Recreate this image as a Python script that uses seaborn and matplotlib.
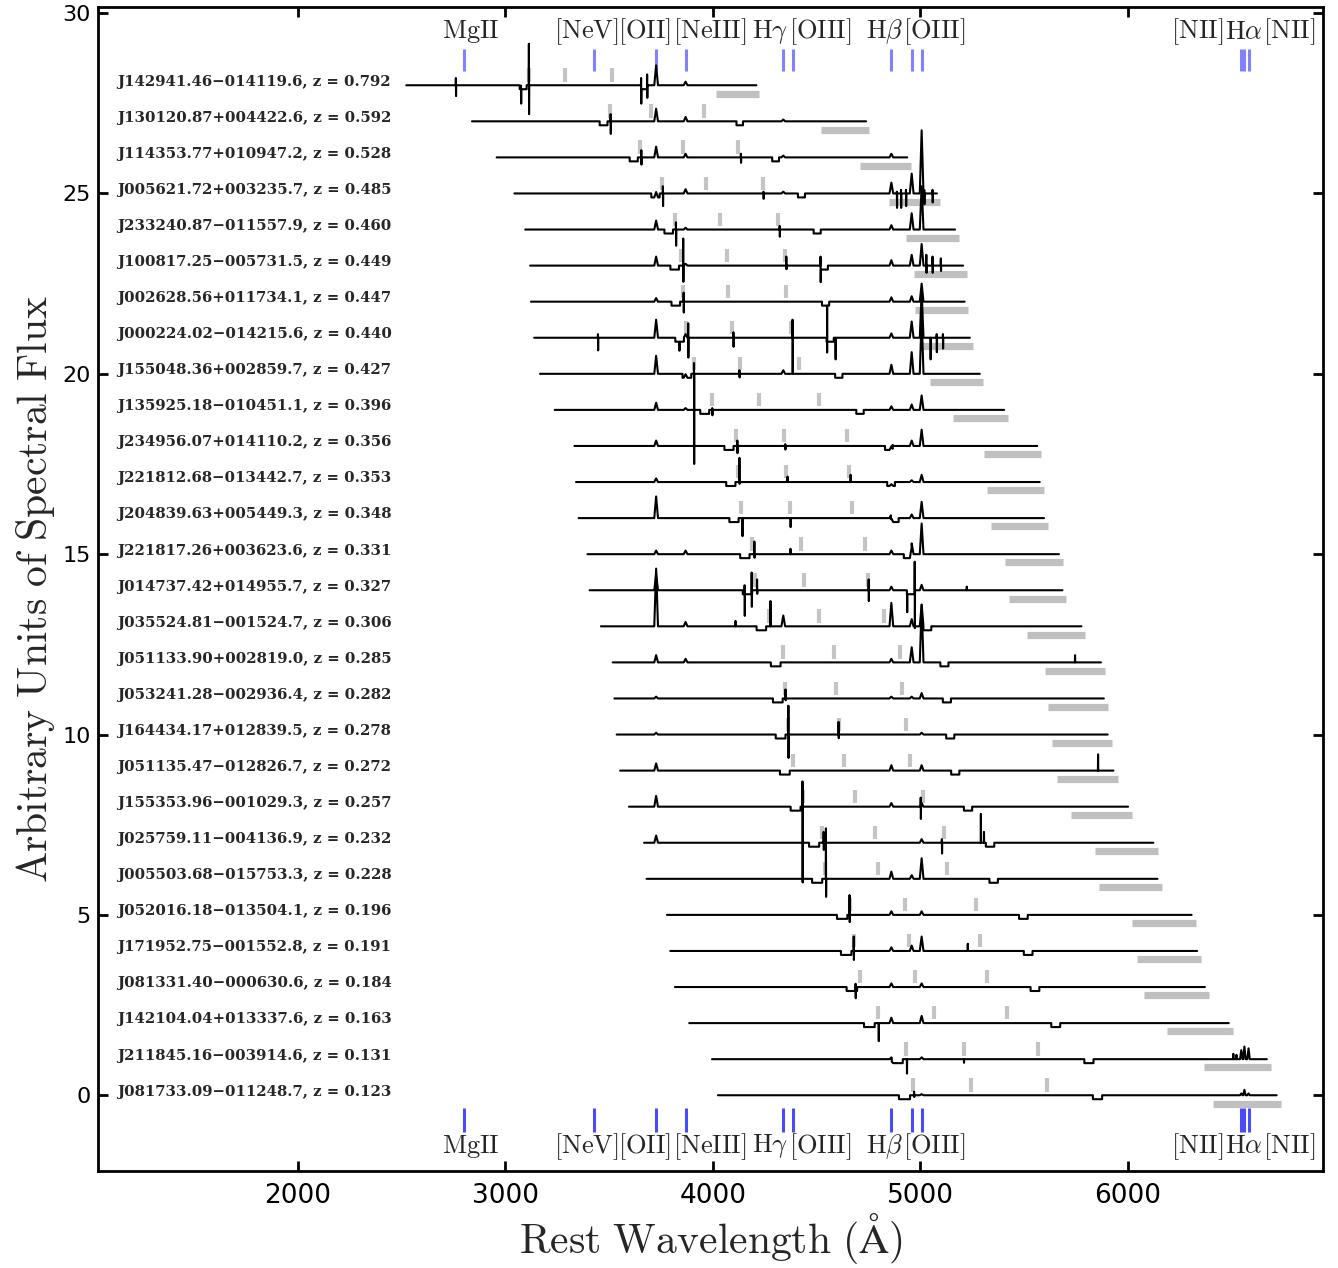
import numpy as np
import pandas as pd
import matplotlib
matplotlib.use("Agg")
import matplotlib.pyplot as plt
import seaborn as sns

# ---------------- data ----------------
NAMES = ["J142941.46\u2212014119.6", "J130120.87+004422.6", "J114353.77+010947.2",
         "J005621.72+003235.7", "J233240.87\u2212011557.9", "J100817.25\u2212005731.5",
         "J002628.56+011734.1", "J000224.02\u2212014215.6", "J155048.36+002859.7",
         "J135925.18\u2212010451.1", "J234956.07+014110.2", "J221812.68\u2212013442.7",
         "J204839.63+005449.3", "J221817.26+003623.6", "J014737.42+014955.7",
         "J035524.81\u2212001524.7", "J051133.90+002819.0", "J053241.28\u2212002936.4",
         "J164434.17+012839.5", "J051135.47\u2212012826.7", "J155353.96\u2212001029.3",
         "J025759.11\u2212004136.9", "J005503.68\u2212015753.3", "J052016.18\u2212013504.1",
         "J171952.75\u2212001552.8", "J081331.40\u2212000630.6", "J142104.04+013337.6",
         "J211845.16\u2212003914.6", "J081733.09\u2212011248.7"]
REDSHIFTS = [0.792, 0.592, 0.528, 0.485, 0.460, 0.449, 0.447, 0.440, 0.427, 0.396,
             0.356, 0.353, 0.348, 0.331, 0.327, 0.306, 0.285, 0.282, 0.278, 0.272,
             0.257, 0.232, 0.228, 0.196, 0.191, 0.184, 0.163, 0.131, 0.123]
OFFSETS = list(range(28, -1, -1))

# observed-frame quantities (Angstrom)
COVERAGE_OBS = (4520, 7545)
SKY_LINES_OBS = [5577, 5892, 6300]
MASK_BAR_OBS = (7200, 7570)
DIPS_OBS = [(5500, 5560), (6550, 6600)]
DIP_DEPTH = 0.11

# emission line peak heights (rest frame)
EMISSION_WAVES = [3727, 3869, 4340, 4861, 4959, 5007, 6548, 6563, 6583]
EMISSION_HEIGHTS = [
    [0.55, 0.10, 0.00, 0.00, 0.00, 0.00, 0, 0, 0],
    [0.35, 0.12, 0.05, 0.00, 0.00, 0.00, 0, 0, 0],
    [0.30, 0.10, 0.05, 0.10, 0.00, 0.00, 0, 0, 0],
    [0.15, 0.12, 0.05, 0.30, 0.55, 1.75, 0, 0, 0],
    [0.25, 0.05, 0.00, 0.12, 0.45, 1.20, 0, 0, 0],
    [0.25, 0.05, 0.00, 0.15, 0.30, 0.60, 0, 0, 0],
    [0.10, 0.00, 0.00, 0.12, 0.15, 0.50, 0, 0, 0],
    [0.50, 0.10, 0.00, 0.12, 0.45, 1.30, 0, 0, 0],
    [0.50, 0.10, 0.10, 0.25, 0.60, 1.60, 0, 0, 0],
    [0.20, 0.05, 0.00, 0.10, 0.15, 0.40, 0, 0, 0],
    [0.15, 0.00, 0.00, 0.10, 0.15, 0.45, 0, 0, 0],
    [0.10, 0.00, 0.00, 0.05, 0.05, 0.20, 0, 0, 0],
    [0.60, 0.00, 0.00, 0.10, 0.10, 0.45, 0, 0, 0],
    [0.10, 0.10, 0.00, 0.10, 0.30, 0.85, 0, 0, 0],
    [0.45, 0.00, 0.00, 0.10, 0.00, 0.15, 0, 0, 0],
    [1.60, 0.12, 0.30, 0.65, 0.20, 0.60, 0, 0, 0],
    [0.20, 0.10, 0.00, 0.10, 0.42, 1.60, 0, 0, 0],
    [0.05, 0.00, 0.00, 0.05, 0.05, 0.15, 0, 0, 0],
    [0.05, 0.00, 0.00, 0.00, 0.00, 0.05, 0, 0, 0],
    [0.20, 0.00, 0.00, 0.15, 0.00, 0.15, 0, 0, 0],
    [0.30, 0.00, 0.00, 0.10, 0.00, 0.10, 0, 0, 0],
    [0.20, 0.00, 0.00, 0.00, 0.00, 0.10, 0, 0, 0],
    [0.00, 0.00, 0.00, 0.20, 0.10, 0.57, 0, 0, 0],
    [0.00, 0.00, 0.00, 0.10, 0.00, 0.10, 0, 0, 0],
    [0.00, 0.00, 0.00, 0.10, 0.15, 0.40, 0, 0, 0],
    [0.00, 0.00, 0.00, 0.10, 0.00, 0.10, 0, 0, 0],
    [0.00, 0.00, 0.00, 0.15, 0.00, 0.20, 0, 0, 0],
    [0.00, 0.00, 0.00, 0.05, 0.00, 0.05, 0.25, 0.35, 0.30],
    [0.00, 0.00, 0.00, 0.00, 0.00, 0.03, 0.05, 0.15, 0.05],
]

# sharp artefacts: (rest wavelength, height above, depth below)
GLITCHES = [
    [(2762, .2, .3), (3076, .1, .4), (3114, 1.15, .8), (3655, .2, .4), (3684, .3, .35)],
    [(3508, .2, .35)],
    [(3656, .2, .2), (4136, .1, .15)],
    [(3760, .2, .35), (4245, .05, .15), (4888, .05, .4), (4908, .1, .4), (4932, .1, .35),
     (5020, .1, .3), (5060, .1, .25)],
    [(3823, .2, .45), (4323, .1, .2)],
    [(3858, .75, .45), (4355, .25, .1), (4520, .25, .35), (5030, .3, .2), (5060, .25, .2),
     (5100, .2, .15)],
    [(3860, .25, .3), (4551, 0, 1.3)],
    [(3447, .1, .35), (3839, 0, .25), (3882, .4, .55), (4100, .15, .25), (4385, .5, 1.0),
     (4592, 0, .6), (5050, 0, .6), (5080, .1, .4), (5110, .1, .3)],
    [(3910, .3, 2.5), (4129, .1, .1)],
    [(3998, .05, .15)],
    [(4119, .15, .2), (4350, .05, .1)],
    [(4129, .67, .05), (4361, .15, 0), (4665, .2, 0)],
    [(4143, 0, .5), (4375, 0, .25)],
    [(4201, .35, .1), (4375, .15, 0)],
    [(4154, .25, .6), (4188, .6, .35), (4214, .3, .1), (4752, .3, .3), (4937, 0, .5),
     (4974, .9, 1.05), (5225, .1, 0)],
    [(4110, .15, 0), (4279, .7, 0)],
    [(5747, .2, 0)],
    [(4351, .25, .05)],
    [(4365, .8, .65), (4607, .35, .1)],
    [(5858, .45, 0)],
    [(4433, .7, 2.1), (5003, .2, .4)],
    [(4535, .3, .2), (5105, .1, .3), (5293, .8, 0), (5308, .3, 0)],
    [(4546, 1.4, .5)],
    [(4660, .55, .2)],
    [(4680, .4, .25), (5230, .2, 0)],
    [(4689, .2, .2)],
    [(4800, 0, .5)],
    [(4936, 0, .4), (5211, 0, .1), (6510, .15, 0), (6525, .12, 0)],
    [(4971, .1, .05)],
]

# reference line markers
MARK_WAVES = [2800, 3426, 3727, 3869, 4340, 4385, 4861, 4959, 5007, 6548, 6563, 6583]
MARK_LABELS = [r"$\mathrm{MgII}$", r"$\mathrm{[NeV]}$", r"$\mathrm{[OII]}$", r"$\mathrm{[NeIII]}$",
               r"$\mathrm{H}\gamma$", r"$\mathrm{[OIII]}$", r"$\mathrm{H}\beta$", r"$\mathrm{[OIII]}$",
               r"$\mathrm{[NII]}$", r"$\mathrm{H}\alpha$", r"$\mathrm{[NII]}$"]
MARK_LABEL_X = [2834, 3393, 3672, 3986, 4275, 4520, 4829, 5070, 6333, 6559, 6781]

# ---------------- build spectra ----------------
rows = []
for name, z, off, heights, glitches in zip(NAMES, REDSHIFTS, OFFSETS, EMISSION_HEIGHTS, GLITCHES):
    a, b = COVERAGE_OBS[0] / (1 + z), COVERAGE_OBS[1] / (1 + z)
    knots = [a, b]
    dips = [(d1 / (1 + z), d2 / (1 + z)) for d1, d2 in DIPS_OBS]
    for d1, d2 in dips:
        knots += [d1 - 0.05, d1 + 0.05, d2 - 0.05, d2 + 0.05]
    feats = []
    for w, h in zip(EMISSION_WAVES, heights):
        if h > 0:
            hw = 6 if w > 6500 else 9
            feats.append(([w - hw, w, w + hw], [0, h, 0]))
    for w, up, dn in glitches:
        feats.append(([w - 1.2, w - 0.4, w + 0.4, w + 1.2], [0, up, -dn, 0]))
    for fx, fy in feats:
        knots += fx
    x = np.unique(np.clip(np.array(knots), a, b))
    y = np.zeros_like(x)
    for d1, d2 in dips:
        y[(x >= d1) & (x <= d2)] -= DIP_DEPTH
    for fx, fy in feats:
        y += np.interp(x, fx, fy, left=0, right=0)
    rows.append(pd.DataFrame({"name": name, "wave": x, "flux": y + off}))
df = pd.concat(rows, ignore_index=True)

# ---------------- plot ----------------
sns.set_theme(style="ticks")
plt.rcParams.update({
    "mathtext.fontset": "cm",
    "font.family": ["DejaVu Sans"],
    "axes.linewidth": 2.0,
    "xtick.direction": "in", "ytick.direction": "in",
    "xtick.top": True, "ytick.right": True,
    "xtick.major.size": 7, "ytick.major.size": 7,
    "xtick.major.width": 2.0, "ytick.major.width": 2.0,
    "xtick.labelsize": 19, "ytick.labelsize": 16,
    "xtick.major.pad": 9, "ytick.major.pad": 5,
    "axes.edgecolor": "black",
    "xtick.color": "black", "ytick.color": "black",
})

fig = plt.figure(figsize=(13.38, 12.68), dpi=100)
ax = fig.add_axes([0.0732, 0.0765, 0.9156, 0.918])

# sky-line ticks and mask bars (observed frame -> rest frame)
for z, off in zip(REDSHIFTS, OFFSETS):
    for s in SKY_LINES_OBS:
        ax.vlines(s / (1 + z), off + 0.1, off + 0.47, color="#c4c4c4", lw=3.0, zorder=1)
    ax.hlines(off - 0.23, MASK_BAR_OBS[0] / (1 + z), MASK_BAR_OBS[1] / (1 + z),
              color="#c0c0c0", lw=5.2, zorder=1)

sns.lineplot(data=df, x="wave", y="flux", units="name", estimator=None, sort=False,
             color="black", lw=1.5, ax=ax, zorder=3, legend=False)

# labels of each spectrum
for name, z, off in zip(NAMES, REDSHIFTS, OFFSETS):
    ax.text(1128, off + 0.1, f"{name}, z = {z:.3f}", ha="left", va="center",
            fontsize=10.75, fontweight="bold", family=["DejaVu Serif"], zorder=4)

# line markers top and bottom
ax.vlines(MARK_WAVES, 28.4, 29.0, color="#8282ff", lw=2.2, zorder=2)
ax.vlines(MARK_WAVES, -1.03, -0.36, color="#4a4aff", lw=2.2, zorder=2)
for lab, xl in zip(MARK_LABELS, MARK_LABEL_X):
    ax.text(xl, 29.48, lab, ha="center", va="center", fontsize=19)
    ax.text(xl, -1.42, lab, ha="center", va="center", fontsize=19)

ax.set_xlim(1036, 6942)
ax.set_ylim(-2.1, 30.17)
ax.set_xticks([2000, 3000, 4000, 5000, 6000])
ax.set_yticks([0, 5, 10, 15, 20, 25, 30])
ax.set_xlabel(r"$\mathrm{Rest\ Wavelength\ (\AA)}$", fontsize=30, labelpad=1)
ax.set_ylabel(r"$\mathrm{Arbitrary\ Units\ of\ Spectral\ Flux}$", fontsize=30, labelpad=4)

fig.savefig("out.png", dpi=100)
